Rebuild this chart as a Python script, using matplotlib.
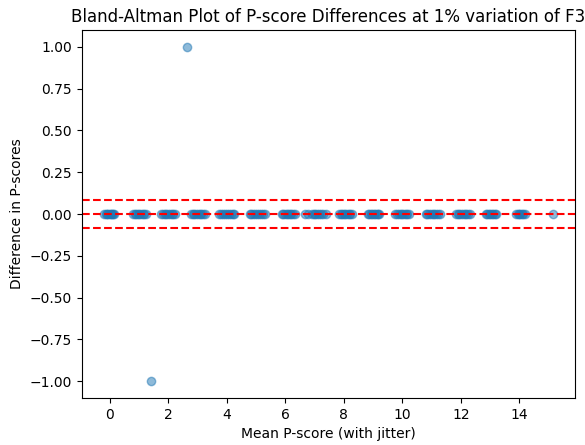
import matplotlib
matplotlib.use("Agg")
import matplotlib.pyplot as plt
import numpy as np

# Mean P-scores (jittered) for pairs whose scores agree (difference 0)
agree_means = [
    -0.19, -0.14, -0.09, -0.05, 0.00, 0.04, 0.08, 0.12, 0.15,
    0.80, 0.85, 0.91, 0.96, 1.01, 1.06, 1.12, 1.17, 1.22,
    1.75, 1.81, 1.87, 1.93, 1.99, 2.05, 2.11, 2.17, 2.23,
    2.77, 2.83, 2.89, 2.95, 3.01, 3.07, 3.13, 3.19, 3.24,
    3.72, 3.79, 3.86, 3.93, 4.00, 4.06, 4.13, 4.20, 4.26,
    4.78, 4.84, 4.91, 4.97, 5.03, 5.10, 5.16, 5.23, 5.29,
    5.87, 5.92, 5.98, 6.04, 6.09, 6.15, 6.21, 6.27, 6.32,
    6.66, 6.78, 6.90, 6.97, 7.03, 7.09, 7.16, 7.23, 7.30, 7.38,
    7.83, 7.89, 7.94, 8.00, 8.05, 8.11, 8.16, 8.22, 8.27,
    8.82, 8.87, 8.92, 8.97, 9.02, 9.07, 9.12, 9.16, 9.20,
    9.76, 9.82, 9.88, 9.94, 10.00, 10.05, 10.11, 10.17, 10.22,
    10.80, 10.86, 10.92, 10.98, 11.04, 11.10, 11.16, 11.22, 11.28,
    11.83, 11.89, 11.95, 12.01, 12.07, 12.13, 12.19, 12.25, 12.31,
    12.86, 12.91, 12.96, 13.01, 13.06, 13.11, 13.16, 13.20,
    13.89, 13.94, 13.99, 14.04, 14.09, 14.14, 14.20,
    15.14,
]

# The two pairs that disagree
outlier_means = [2.64, 1.40]
outlier_diffs = [1.0, -1.0]

# Mean difference and 95% limits of agreement
mean_diff = 0.0
loa_upper = 0.086
loa_lower = -0.086

means = np.array(agree_means + outlier_means)
diffs = np.array([0.0] * len(agree_means) + outlier_diffs)

fig = plt.figure(figsize=(5.85, 4.45), dpi=100)
ax = fig.add_axes([0.140, 0.1056, 0.843, 0.827])

ax.scatter(means, diffs, alpha=0.5)
ax.axhline(mean_diff, color="red", linestyle="--", linewidth=1.5)
ax.axhline(loa_upper, color="red", linestyle="--", linewidth=1.5)
ax.axhline(loa_lower, color="red", linestyle="--", linewidth=1.5)

ax.set_title("Bland-Altman Plot of P-score Differences at 1% variation of F3")
ax.set_xlabel("Mean P-score (with jitter)")
ax.set_ylabel("Difference in P-scores")

fig.savefig("out.png", dpi=100)
